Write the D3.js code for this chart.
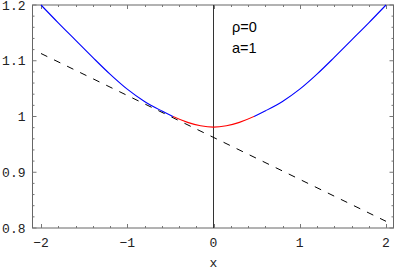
<!DOCTYPE html>
<html>
<head>
<meta charset="utf-8">
<script src="https://cdn.jsdelivr.net/npm/d3@7"></script>
<style>
  body { margin: 0; background: #fff; }
  svg { display: block; }
</style>
</head>
<body>
<div id="chart"></div>
<script>
// data
const curveX = [-2, -1.8, -1.6, -1.4, -1.2, -1, -0.8, -0.6, -0.47, -0.3, -0.15, 0, 0.15, 0.3, 0.47, 0.6, 0.8, 1, 1.2, 1.4, 1.6, 1.8, 2];
const curveY = [1.2, 1.168, 1.137, 1.106, 1.076, 1.049, 1.027, 1.01, 1.0, 0.9895, 0.9835, 0.981, 0.9835, 0.9895, 1.0, 1.01, 1.027, 1.049, 1.076, 1.106, 1.137, 1.168, 1.2];
const redRange = [-0.47, 0.47];
const dashX = [-2, 2];
const dashY = [1.113, 0.812];
const xTicks = [-2, -1, 0, 1, 2];
const xTickLabels = ["\u22122", "\u22121", "0", "1", "2"];
const yTicks = [0.8, 0.9, 1, 1.1, 1.2];
const yTickLabels = ["0.8", "0.9", "1", "1.1", "1.2"];
const notes = ["\u03c1=0", "a=1"];

const width = 395, height = 273;
const frame = {left: 32.5, right: 393.5, top: 5, bottom: 228};

const svg = d3.select("#chart")
    .append("svg")
    .attr("width", width)
    .attr("height", height);

// scales
const x = d3.scaleLinear().domain([-2, 2]).range([41, 386]);
const y = d3.scaleLinear().domain([0.8, 1.2]).range([frame.bottom, frame.top]);

const pts = curveX.map((d, i) => ({x: d, y: curveY[i]}));

// clip regions for the red middle part and the blue outer parts
const defs = svg.append("defs");
defs.append("clipPath").attr("id", "clip-red")
    .append("rect")
    .attr("x", x(redRange[0])).attr("y", 0)
    .attr("width", x(redRange[1]) - x(redRange[0])).attr("height", height);
const blueClip = defs.append("clipPath").attr("id", "clip-blue");
blueClip.append("rect")
    .attr("x", 0).attr("y", 0)
    .attr("width", x(redRange[0])).attr("height", height);
blueClip.append("rect")
    .attr("x", x(redRange[1])).attr("y", 0)
    .attr("width", width - x(redRange[1])).attr("height", height);

// frame
svg.append("rect")
    .attr("x", frame.left)
    .attr("y", frame.top)
    .attr("width", frame.right - frame.left)
    .attr("height", frame.bottom - frame.top)
    .attr("fill", "none")
    .attr("stroke", "#666")
    .attr("stroke-width", 1);

// minor + major ticks, inward on all four sides
const xMinor = d3.range(-2, 2.001, 0.2).map(v => +v.toFixed(2));
const yMinor = d3.range(0.8, 1.2001, 0.02).map(v => +v.toFixed(3));
const isMajorX = v => xTicks.some(t => Math.abs(t - v) < 1e-6);
const isMajorY = v => yTicks.some(t => Math.abs(t - v) < 1e-6);

const ticks = svg.append("g").attr("stroke", "#777").attr("stroke-width", 1);
xMinor.forEach(v => {
    const len = isMajorX(v) ? 4 : 2;
    const px = Math.round(x(v)) + 0.5;
    ticks.append("line").attr("x1", px).attr("x2", px)
        .attr("y1", frame.bottom).attr("y2", frame.bottom - len);
    ticks.append("line").attr("x1", px).attr("x2", px)
        .attr("y1", frame.top).attr("y2", frame.top + len);
});
yMinor.forEach(v => {
    const len = isMajorY(v) ? 4 : 2;
    const py = y(v);
    ticks.append("line").attr("x1", frame.left).attr("x2", frame.left + len)
        .attr("y1", py).attr("y2", py);
    ticks.append("line").attr("x1", frame.right).attr("x2", frame.right - len)
        .attr("y1", py).attr("y2", py);
});

// tick labels
svg.append("g")
    .selectAll("text")
    .data(xTicks)
    .join("text")
    .attr("x", d => x(d))
    .attr("y", 247)
    .attr("text-anchor", "middle")
    .style("font-family", "'Liberation Mono', monospace")
    .style("font-size", "13px")
    .attr("fill", "#222")
    .text((d, i) => xTickLabels[i]);

svg.append("g")
    .selectAll("text")
    .data(yTicks)
    .join("text")
    .attr("x", 25.5)
    .attr("y", d => y(d) + 4.5)
    .attr("text-anchor", "end")
    .style("font-family", "'Liberation Mono', monospace")
    .style("font-size", "13px")
    .attr("fill", "#222")
    .text((d, i) => yTickLabels[i]);

svg.append("text")
    .attr("x", x(0))
    .attr("y", 267)
    .attr("text-anchor", "middle")
    .style("font-family", "'Liberation Mono', monospace")
    .style("font-size", "13px")
    .attr("fill", "#222")
    .text("x");

// vertical axis line at x = 0
svg.append("line")
    .attr("x1", x(0)).attr("x2", x(0))
    .attr("y1", frame.top).attr("y2", frame.bottom)
    .attr("stroke", "#333")
    .attr("stroke-width", 1);

const line = d3.line()
    .x(d => x(d.x))
    .y(d => y(d.y))
    .curve(d3.curveMonotoneX);

// dashed tangent
svg.append("path")
    .datum(dashX.map((d, i) => ({x: d, y: dashY[i]})))
    .attr("d", d3.line().x(d => x(d.x)).y(d => y(d.y)))
    .attr("fill", "none")
    .attr("stroke", "#000")
    .attr("stroke-width", 1)
    .attr("stroke-dasharray", "7,7.5");

// same curve twice, clipped: blue outside redRange, red inside
svg.append("path")
    .datum(pts)
    .attr("d", line)
    .attr("clip-path", "url(#clip-blue)")
    .attr("fill", "none")
    .attr("stroke", "#0000ff")
    .attr("stroke-width", 1.1);

svg.append("path")
    .datum(pts)
    .attr("d", line)
    .attr("clip-path", "url(#clip-red)")
    .attr("fill", "none")
    .attr("stroke", "#ff0000")
    .attr("stroke-width", 1.1);

// annotations
svg.append("g")
    .selectAll("text")
    .data(notes)
    .join("text")
    .attr("x", 232)
    .attr("y", (d, i) => 32 + i * 21)
    .style("font-family", "'Liberation Sans', sans-serif")
    .style("font-size", "14.5px")
    .attr("fill", "#000")
    .text(d => d);
</script>
</body>
</html>
